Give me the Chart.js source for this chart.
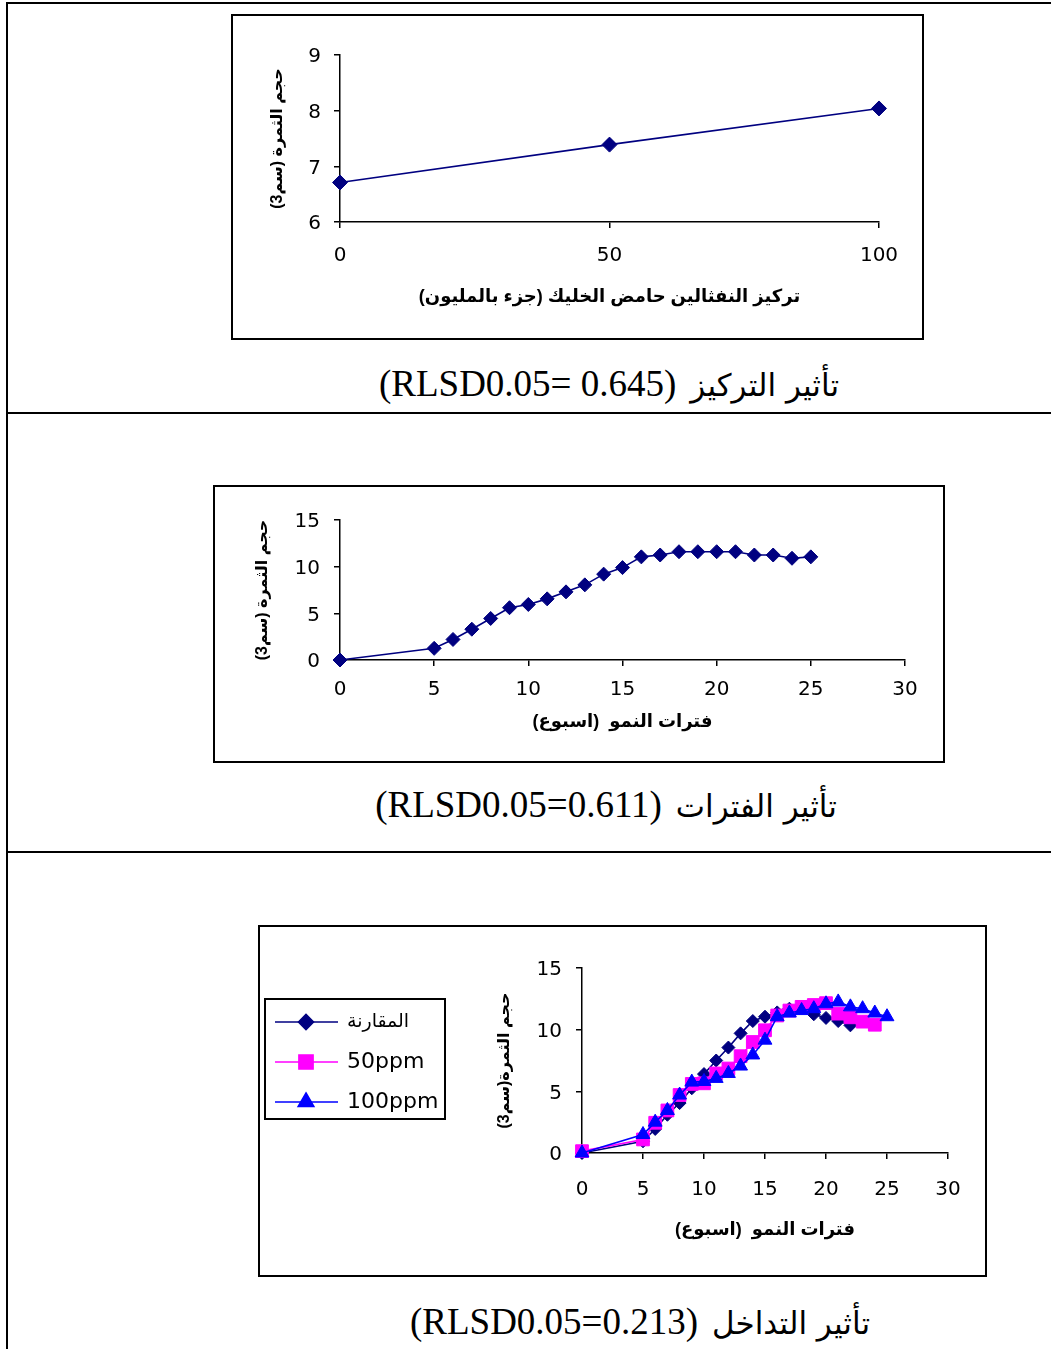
<!DOCTYPE html>
<html><head><meta charset="utf-8">
<script src="https://cdn.jsdelivr.net/npm/chart.js@4.4.1/dist/chart.umd.min.js"></script>
<style>
html,body{margin:0;padding:0;background:#fff;}
body{width:1051px;height:1349px;position:relative;overflow:hidden;}
.ln{position:absolute;background:#000;}
canvas{position:absolute;}
.cap{position:absolute;font-family:"Liberation Serif","Times New Roman",serif;font-size:37px;color:#000;white-space:nowrap;transform:translate(-50%,-50%);line-height:1;}
.cap .ar{font-family:"DejaVu Sans",sans-serif;font-size:31px;}
.cap .gap{display:inline-block;width:14px;}
</style></head><body>
<div class="ln" style="left:6px;top:2px;width:1045px;height:2px"></div>
<div class="ln" style="left:6px;top:2px;width:2px;height:1347px"></div>
<div class="ln" style="left:6px;top:412px;width:1045px;height:2px"></div>
<div class="ln" style="left:6px;top:851px;width:1045px;height:2px"></div>
<canvas id="c1" width="693" height="326" style="left:231px;top:14px"></canvas>
<canvas id="c2" width="732" height="278" style="left:213px;top:485px"></canvas>
<canvas id="c3" width="729" height="352" style="left:258px;top:925px"></canvas>
<div class="cap" dir="rtl" style="left:609px;top:383px"><span class="ar" id="capA1"></span><span class="gap"></span><span id="capB1"></span></div>
<div class="cap" dir="rtl" style="left:606px;top:804px"><span class="ar" id="capA2"></span><span class="gap"></span><span id="capB2"></span></div>
<div class="cap" dir="rtl" style="left:640px;top:1321px"><span class="ar" id="capA3"></span><span class="gap"></span><span id="capB3"></span></div>
<script>
// ---------- data ----------
const concentrations = [0, 50, 100];
const concVolume = [6.71, 7.39, 8.04];

const weeks = [0, 5, 6, 7, 8, 9, 10, 11, 12, 13, 14, 15, 16, 17, 18, 19, 20, 21, 22, 23, 24, 25];
const periodVolume = [0, 1.25, 2.2, 3.3, 4.45, 5.6, 5.95, 6.55, 7.3, 8.05, 9.2, 9.9, 11.05, 11.25, 11.6, 11.6, 11.6, 11.6, 11.25, 11.25, 10.9, 11.05];

const weeksControl = [0, 5, 6, 7, 8, 9, 10, 11, 12, 13, 14, 15, 16, 17, 18, 19, 20, 21, 22];
const controlVolume = [0, 0.95, 1.95, 3.1, 4.05, 5.25, 6.4, 7.5, 8.55, 9.7, 10.7, 11.05, 11.4, 11.7, 11.8, 11.25, 10.95, 10.7, 10.35];
const weeks50 = [0, 5, 6, 7, 8, 9, 10, 11, 12, 13, 14, 15, 16, 17, 18, 19, 20, 21, 22, 23, 24];
const ppm50Volume = [0.15, 1.1, 2.45, 3.45, 4.7, 5.6, 5.65, 6.45, 6.85, 7.85, 9.0, 9.95, 11.15, 11.55, 11.85, 12.0, 12.15, 11.3, 11.0, 10.65, 10.4];
const weeks100 = [0, 5, 6, 7, 8, 9, 10, 11, 12, 13, 14, 15, 16, 17, 18, 19, 20, 21, 22, 23, 24, 25];
const ppm100Volume = [0, 1.5, 2.5, 3.45, 4.7, 5.75, 5.8, 6.05, 6.45, 7.05, 7.95, 9.15, 11.05, 11.35, 11.55, 11.7, 12.1, 12.25, 11.85, 11.7, 11.35, 11.05];

const seriesNames = ['المقارنة', '50ppm', '100ppm'];
const yTitle1 = 'حجم الثمرة (سم3)';
const yTitle2 = 'حجم الثمرة (سم3)';
const yTitle3 = 'حجم الثمرة(سم3)';
const xTitle1 = 'تركيز النفثالين حامض الخليك (جزء بالمليون)';
const xTitle2 = 'فترات النمو  (اسبوع)';
const captionTitles = ['تأثير  التركيز', 'تأثير  الفترات', 'تأثير  التداخل'];
const captionStats = ['(RLSD0.05= 0.645)', '(RLSD0.05=0.611)', '(RLSD0.05=0.213)'];

// ---------- helpers ----------
const TICK_FONT = '"DejaVu Sans", Arial, sans-serif';
const TITLE_FONT = 'Arial, "Liberation Sans", "DejaVu Sans", sans-serif';
const toPts = (xs, ys) => xs.map((x, i) => ({x: x, y: ys[i]}));

const borderPlugin = {
  id: 'boxBorder',
  afterDraw(chart) {
    const c = chart.ctx;
    c.save();
    c.strokeStyle = '#000';
    c.lineWidth = 2;
    c.strokeRect(1, 1, chart.width - 2, chart.height - 2);
    c.restore();
  }
};

function axisX(min, max, step, tickPad, fitH, title, titlePadBottom) {
  return {
    type: 'linear', min: min, max: max,
    ticks: {stepSize: step, color: '#000', padding: tickPad, font: {family: TICK_FONT, size: 20}},
    grid: {display: true, drawOnChartArea: false, drawTicks: true, tickLength: 6, color: '#000', lineWidth: 1.5},
    border: {display: true, color: '#000', width: 1.5},
    title: {display: true, text: title, color: '#000', font: {family: TITLE_FONT, size: 18, weight: 'bold'}, padding: {top: 0, bottom: titlePadBottom}},
    afterFit(s) { s.height = fitH; }
  };
}
function axisY(min, max, step, tickPad, fitW, title, titlePadTop) {
  return {
    type: 'linear', min: min, max: max,
    ticks: {stepSize: step, color: '#000', padding: tickPad, labelOffset: 2, font: {family: TICK_FONT, size: 20}},
    grid: {display: true, drawOnChartArea: false, drawTicks: true, tickLength: 6, color: '#000', lineWidth: 1.5},
    border: {display: true, color: '#000', width: 1.5},
    title: {display: true, text: title, color: '#000', font: {family: TITLE_FONT, size: 16, weight: 'bold'}, padding: {top: titlePadTop, bottom: 0}},
    afterFit(s) { s.width = fitW; }
  };
}
function series(label, xs, ys, color, style, radius) {
  return {
    label: label, data: toPts(xs, ys),
    borderColor: color, backgroundColor: color, borderWidth: 1.6,
    pointStyle: style, pointRadius: radius, pointHoverRadius: radius,
    pointBackgroundColor: color, pointBorderColor: color, pointBorderWidth: 1,
    tension: 0, fill: false, clip: false
  };
}
const baseOpts = {responsive: false, animation: false, events: [],
  plugins: {legend: {display: false}, tooltip: {enabled: false}}};

// ---------- chart 1 ----------
new Chart(document.getElementById('c1'), {
  type: 'line',
  data: {datasets: [series('c', concentrations, concVolume, '#000080', 'rectRot', 7.5)]},
  options: Object.assign({}, baseOpts, {
    layout: {padding: {left: 0, top: 41, right: 45, bottom: 0}},
    scales: {
      x: axisX(0, 100, 50, 16, 118, xTitle1, 32),
      y: axisY(6, 9, 1, 13, 109, yTitle1, 37)
    }
  }),
  plugins: [borderPlugin]
});

// ---------- chart 2 ----------
new Chart(document.getElementById('c2'), {
  type: 'line',
  data: {datasets: [series('p', weeks, periodVolume, '#000080', 'rectRot', 7)]},
  options: Object.assign({}, baseOpts, {
    layout: {padding: {left: 0, top: 35, right: 40, bottom: 0}},
    scales: {
      x: axisX(0, 30, 5, 12, 103, xTitle2, 30),
      y: axisY(0, 15, 5, 14, 127, yTitle2, 40)
    }
  }),
  plugins: [borderPlugin]
});

// ---------- chart 3 ----------
const legendPlugin = {
  id: 'lineLegend',
  afterDraw(chart) {
    const c = chart.ctx;
    c.save();
    c.strokeStyle = '#000';
    c.lineWidth = 2;
    c.strokeRect(7, 74, 180, 120);
    chart.data.datasets.forEach((ds, i) => {
      const y = 97 + 40 * i;
      c.strokeStyle = ds.borderColor;
      c.lineWidth = 1.6;
      c.beginPath(); c.moveTo(17, y); c.lineTo(80, y); c.stroke();
      c.fillStyle = ds.borderColor;
      Chart.helpers.drawPoint(c, {pointStyle: ds.pointStyle, radius: ds.pointRadius + 1, rotation: 0, borderWidth: 1}, 48, y);
      c.fillStyle = '#000';
      c.textBaseline = 'middle';
      c.textAlign = 'left';
      c.font = i === 0 ? '19px "DejaVu Sans", sans-serif' : '22px "DejaVu Sans", sans-serif';
      c.fillText(ds.label, 89, y);
    });
    c.restore();
  }
};
const ds3 = [
  Object.assign(series(seriesNames[0], weeksControl, controlVolume, '#000080', 'rectRot', 6.5), {order: 3}),
  Object.assign(series(seriesNames[1], weeks50, ppm50Volume, '#FF00FF', 'rect', 9), {order: 2}),
  Object.assign(series(seriesNames[2], weeks100, ppm100Volume, '#0000FF', 'triangle', 8), {order: 1})
];
new Chart(document.getElementById('c3'), {
  type: 'line',
  data: {datasets: ds3},
  options: Object.assign({}, baseOpts, {
    layout: {padding: {left: 0, top: 43, right: 39, bottom: 0}},
    scales: {
      x: axisX(0, 30, 5, 19, 124, xTitle2, 36),
      y: axisY(0, 15, 5, 14, 324, yTitle3, 237)
    }
  }),
  plugins: [borderPlugin, legendPlugin]
});

// ---------- captions ----------
for (let i = 0; i < 3; i++) {
  document.getElementById('capA' + (i + 1)).textContent = captionTitles[i];
  document.getElementById('capB' + (i + 1)).textContent = captionStats[i];
}
</script>
</body></html>
